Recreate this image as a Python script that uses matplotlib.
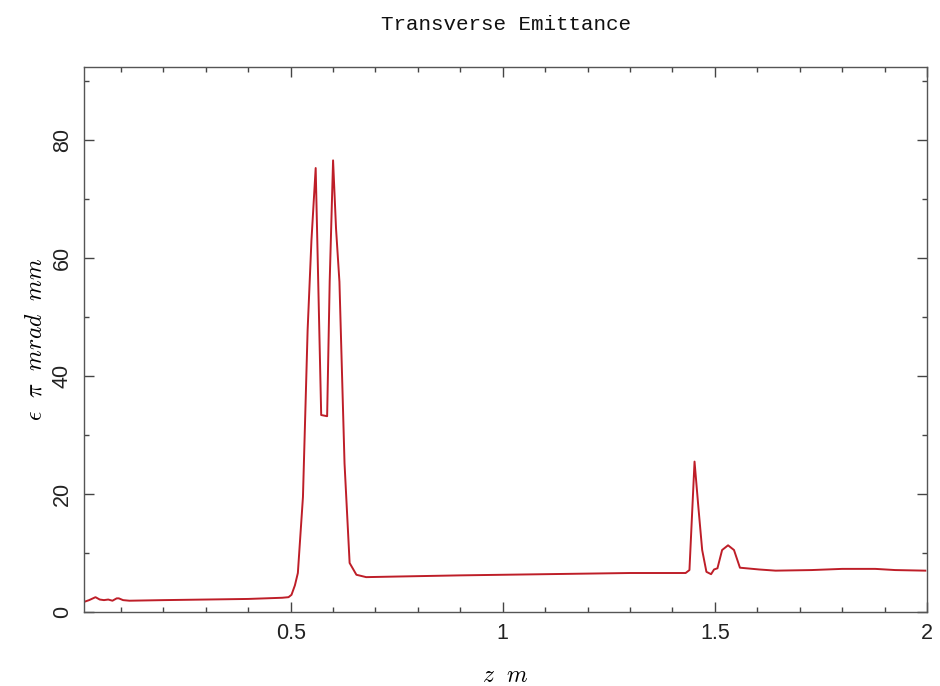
import matplotlib
matplotlib.use("Agg")
import matplotlib.pyplot as plt
from matplotlib.ticker import MultipleLocator, FixedLocator

# Data
z = [0.013, 0.025, 0.04, 0.05, 0.06, 0.07, 0.08, 0.09, 0.095, 0.105, 0.12,
     0.2, 0.3, 0.4, 0.48, 0.495, 0.502, 0.51, 0.517, 0.529, 0.540, 0.549, 0.559,
     0.572, 0.586, 0.592, 0.600, 0.607, 0.615, 0.627, 0.639, 0.655, 0.678,
     0.75, 0.9, 1.0, 1.1, 1.2, 1.3, 1.4, 1.431, 1.440, 1.452, 1.461, 1.470,
     1.480, 1.491, 1.498, 1.506, 1.517, 1.531, 1.545, 1.559, 1.604, 1.643,
     1.728, 1.80, 1.878, 1.925, 1.996]
emit = [1.7, 2.0, 2.5, 2.1, 2.0, 2.1, 1.9, 2.3, 2.3, 2.0, 1.9,
        2.0, 2.1, 2.2, 2.4, 2.5, 2.9, 4.5, 6.6, 19.5, 47.8, 63.0, 75.3,
        33.4, 33.2, 56.0, 76.6, 65.0, 56.0, 25.2, 8.3, 6.3, 5.9,
        6.0, 6.2, 6.3, 6.4, 6.5, 6.6, 6.6, 6.6, 7.1, 25.5, 17.8, 10.5,
        6.8, 6.4, 7.2, 7.4, 10.5, 11.3, 10.5, 7.5, 7.2, 7.0,
        7.1, 7.3, 7.3, 7.1, 7.0]

x_major = [0.5, 1.0, 1.5, 2.0]
x_labels = ["0.5", "1", "1.5", "2"]
y_major = [0, 20, 40, 60, 80]
y_labels = ["0", "20", "40", "60", "80"]

plt.rcParams['mathtext.fontset'] = 'cm'

fig = plt.figure(figsize=(9.4, 6.86), dpi=100)
ax = fig.add_axes([0.0894, 0.108, 0.8968, 0.794])

ax.plot(z, emit, color='#be1e28', lw=1.4)

ax.set_xlim(0.013, 2.0)
ax.set_ylim(0, 92.4)

ax.xaxis.set_major_locator(FixedLocator(x_major))
ax.set_xticklabels(x_labels)
ax.xaxis.set_minor_locator(MultipleLocator(0.1))
ax.yaxis.set_major_locator(FixedLocator(y_major))
ax.set_yticklabels(y_labels, rotation=90, va='center')
ax.yaxis.set_minor_locator(MultipleLocator(10))

ax.tick_params(which='both', direction='in', top=True, right=True,
               color='#444444', width=1.0)
ax.tick_params(which='major', length=7, labelsize=15.5, pad=8)
ax.tick_params(which='minor', length=3.5)
for lab in ax.get_xticklabels() + ax.get_yticklabels():
    lab.set_family('Liberation Sans')
    lab.set_color('#222222')

for s in ax.spines.values():
    s.set_color('#555555')
    s.set_linewidth(1.0)

ax.set_title('Transverse Emittance', family='Liberation Mono', fontsize=15,
             pad=27, color='#111111', weight='medium')
ax.set_xlabel(r'$z\ \ m$', fontsize=17, labelpad=14)
ax.set_ylabel(r'$\epsilon\ \ \pi\ \ mrad\ \ mm$', fontsize=17, labelpad=4)

fig.savefig('out.png', dpi=100)
